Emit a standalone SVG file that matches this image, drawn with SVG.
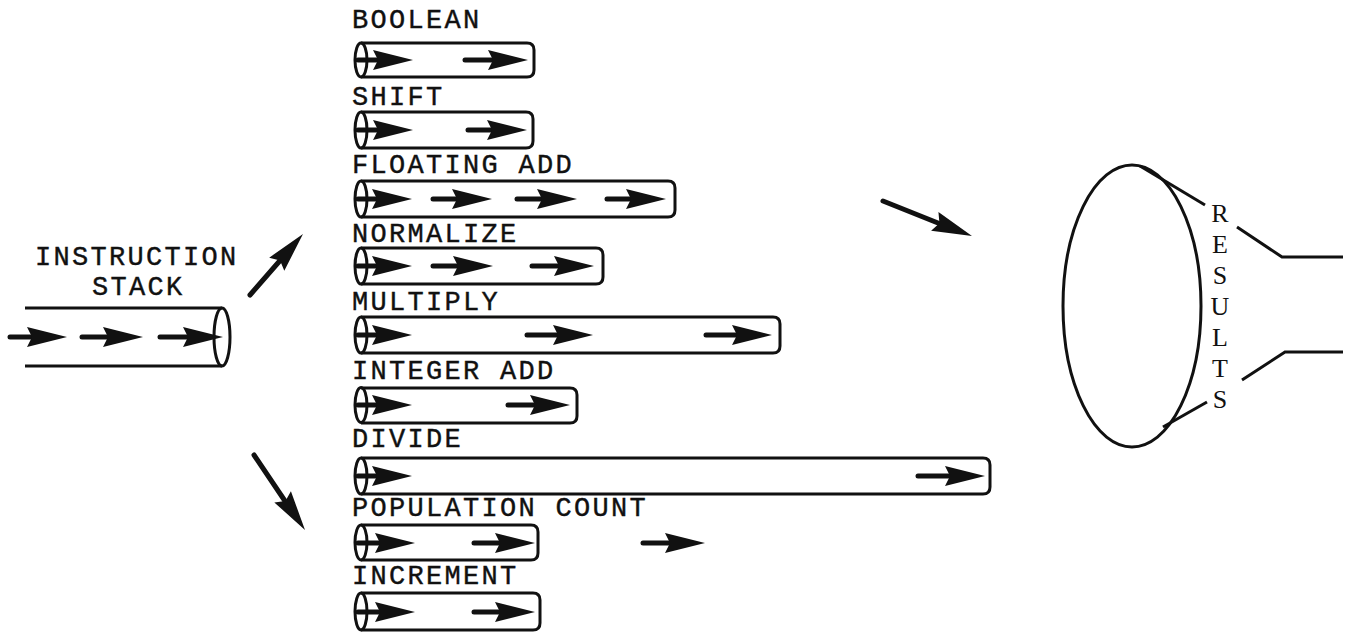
<svg xmlns="http://www.w3.org/2000/svg" xmlns:xlink="http://www.w3.org/1999/xlink" width="1353" height="635" viewBox="0 0 1353 635">
  <style>
    .lbl { font-family: "Liberation Mono", "Courier New", monospace; font-size: 27px; letter-spacing: 2.3px; fill: #111; stroke: #111; stroke-width: 0.4; }
    .res { font-family: "Liberation Serif", "Times New Roman", serif; font-size: 26px; fill: #111; text-anchor: middle; }
    .pipe { fill: none; stroke: #111; stroke-width: 3; stroke-linejoin: round; }
    .shaft { stroke: #111; stroke-width: 5; stroke-linecap: round; }
    .line { fill: none; stroke: #111; stroke-width: 3; }
  </style>
  <defs>
    <!-- barbed arrowhead, tip at origin pointing +x -->
    <path id="head" d="M0,0 L-40,-10 L-35,0 L-40,10 Z" fill="#111"/>
  </defs>
  <rect width="1353" height="635" fill="#fff"/>

  <!-- instruction stack -->
  <g id="instruction-stack">
    <text class="lbl" x="35" y="265">INSTRUCTION</text>
    <text class="lbl" x="92" y="295">STACK</text>
    <line class="line" x1="25" y1="308" x2="222" y2="308"/>
    <line class="line" x1="25" y1="366" x2="222" y2="366"/>
    <ellipse class="pipe" cx="222" cy="337" rx="8" ry="29"/>
    <line class="shaft" x1="10" y1="337" x2="40" y2="337"/><use xlink:href="#head" transform="translate(67,337)"/>
    <line class="shaft" x1="82" y1="337" x2="115" y2="337"/><use xlink:href="#head" transform="translate(143,337)"/>
    <line class="shaft" x1="160" y1="337" x2="195" y2="337"/><use xlink:href="#head" transform="translate(223,337)"/>
  </g>

  <!-- functional units -->
  <g id="boolean">
    <text class="lbl" x="352" y="28">BOOLEAN</text>
    <path class="pipe" d="M361,43 H527 Q534,43 534,50 V70 Q534,77 527,77 H361"/>
    <ellipse class="pipe" cx="361" cy="60" rx="6" ry="17"/>
    <line class="shaft" x1="358" y1="60" x2="385" y2="60"/><use xlink:href="#head" transform="translate(413,60)"/>
    <line class="shaft" x1="465" y1="60" x2="500" y2="60"/><use xlink:href="#head" transform="translate(528,60)"/>
  </g>
  <g id="shift">
    <text class="lbl" x="352" y="105">SHIFT</text>
    <path class="pipe" d="M361,112 H526 Q533,112 533,119 V141 Q533,148 526,148 H361"/>
    <ellipse class="pipe" cx="361" cy="130" rx="6" ry="18"/>
    <line class="shaft" x1="358" y1="130" x2="385" y2="130"/><use xlink:href="#head" transform="translate(413,130)"/>
    <line class="shaft" x1="468" y1="130" x2="499" y2="130"/><use xlink:href="#head" transform="translate(527,130)"/>
  </g>
  <g id="floating-add">
    <text class="lbl" x="352" y="173">FLOATING ADD</text>
    <path class="pipe" d="M361,181 H668 Q675,181 675,188 V210 Q675,217 668,217 H361"/>
    <ellipse class="pipe" cx="361" cy="199" rx="6" ry="18"/>
    <line class="shaft" x1="358" y1="199" x2="385" y2="199"/><use xlink:href="#head" transform="translate(412,199)"/>
    <line class="shaft" x1="433" y1="199" x2="465" y2="199"/><use xlink:href="#head" transform="translate(492,199)"/>
    <line class="shaft" x1="517" y1="199" x2="550" y2="199"/><use xlink:href="#head" transform="translate(577,199)"/>
    <line class="shaft" x1="607" y1="199" x2="639" y2="199"/><use xlink:href="#head" transform="translate(666,199)"/>
  </g>
  <g id="normalize">
    <text class="lbl" x="352" y="242">NORMALIZE</text>
    <path class="pipe" d="M361,248 H596 Q603,248 603,255 V277 Q603,284 596,284 H361"/>
    <ellipse class="pipe" cx="361" cy="266" rx="6" ry="18"/>
    <line class="shaft" x1="358" y1="266" x2="385" y2="266"/><use xlink:href="#head" transform="translate(412,266)"/>
    <line class="shaft" x1="433" y1="266" x2="466" y2="266"/><use xlink:href="#head" transform="translate(493,266)"/>
    <line class="shaft" x1="532" y1="266" x2="567" y2="266"/><use xlink:href="#head" transform="translate(594,266)"/>
  </g>
  <g id="multiply">
    <text class="lbl" x="352" y="310">MULTIPLY</text>
    <path class="pipe" d="M361,317 H773 Q780,317 780,324 V346 Q780,353 773,353 H361"/>
    <ellipse class="pipe" cx="361" cy="335" rx="6" ry="18"/>
    <line class="shaft" x1="358" y1="335" x2="385" y2="335"/><use xlink:href="#head" transform="translate(412,335)"/>
    <line class="shaft" x1="527" y1="335" x2="566" y2="335"/><use xlink:href="#head" transform="translate(593,335)"/>
    <line class="shaft" x1="706" y1="335" x2="745" y2="335"/><use xlink:href="#head" transform="translate(772,335)"/>
  </g>
  <g id="integer-add">
    <text class="lbl" x="352" y="379">INTEGER ADD</text>
    <path class="pipe" d="M361,388 H570 Q577,388 577,395 V416 Q577,423 570,423 H361"/>
    <ellipse class="pipe" cx="361" cy="405" rx="6" ry="17.5"/>
    <line class="shaft" x1="358" y1="405" x2="385" y2="405"/><use xlink:href="#head" transform="translate(412,405)"/>
    <line class="shaft" x1="508" y1="405" x2="543" y2="405"/><use xlink:href="#head" transform="translate(570,405)"/>
  </g>
  <g id="divide">
    <text class="lbl" x="352" y="447">DIVIDE</text>
    <path class="pipe" d="M361,458 H983 Q990,458 990,465 V487 Q990,494 983,494 H361"/>
    <ellipse class="pipe" cx="361" cy="476" rx="6" ry="18"/>
    <line class="shaft" x1="358" y1="476" x2="385" y2="476"/><use xlink:href="#head" transform="translate(412,476)"/>
    <line class="shaft" x1="918" y1="476" x2="958" y2="476"/><use xlink:href="#head" transform="translate(985,476)"/>
  </g>
  <g id="population-count">
    <text class="lbl" x="352" y="516">POPULATION COUNT</text>
    <path class="pipe" d="M361,525 H531 Q538,525 538,532 V553 Q538,560 531,560 H361"/>
    <ellipse class="pipe" cx="361" cy="542.5" rx="6" ry="17.5"/>
    <line class="shaft" x1="358" y1="543" x2="388" y2="543"/><use xlink:href="#head" transform="translate(415,543)"/>
    <line class="shaft" x1="474" y1="543" x2="508" y2="543"/><use xlink:href="#head" transform="translate(535,543)"/>
  </g>
  <g id="increment">
    <text class="lbl" x="352" y="584">INCREMENT</text>
    <path class="pipe" d="M361,593 H533 Q540,593 540,600 V623 Q540,630 533,630 H361"/>
    <ellipse class="pipe" cx="361" cy="611.5" rx="6" ry="18.5"/>
    <line class="shaft" x1="358" y1="612" x2="388" y2="612"/><use xlink:href="#head" transform="translate(415,612)"/>
    <line class="shaft" x1="474" y1="612" x2="508" y2="612"/><use xlink:href="#head" transform="translate(535,612)"/>
  </g>

  <!-- results collector -->
  <g id="results">
    <ellipse class="line" cx="1132" cy="306" rx="69" ry="141"/>
    <polyline class="line" points="1140,166 1205,205"/>
    <polyline class="line" points="1237,227 1282,257 1343,257"/>
    <polyline class="line" points="1242,380 1285,352 1343,352"/>
    <polyline class="line" points="1163,427 1207,402"/>
    <text class="res" x="1220" y="222">R</text>
    <text class="res" x="1220" y="253">E</text>
    <text class="res" x="1220" y="284">S</text>
    <text class="res" x="1220" y="315">U</text>
    <text class="res" x="1220" y="346">L</text>
    <text class="res" x="1220" y="377">T</text>
    <text class="res" x="1220" y="408">S</text>
  </g>

  <!-- flow arrows between stages -->
  <g id="connectors">
    <line class="shaft" x1="250" y1="295" x2="284" y2="256"/><use xlink:href="#head" transform="translate(303,234) rotate(-49)"/>
    <line class="shaft" x1="254" y1="455" x2="287" y2="504"/><use xlink:href="#head" transform="translate(305,530) rotate(56)"/>
    <line class="shaft" x1="883" y1="201" x2="943" y2="225"/><use xlink:href="#head" transform="translate(972,236) rotate(21.5)"/>
    <line class="shaft" x1="643" y1="543" x2="675" y2="543"/><use xlink:href="#head" transform="translate(705,543)"/>
  </g>
</svg>
